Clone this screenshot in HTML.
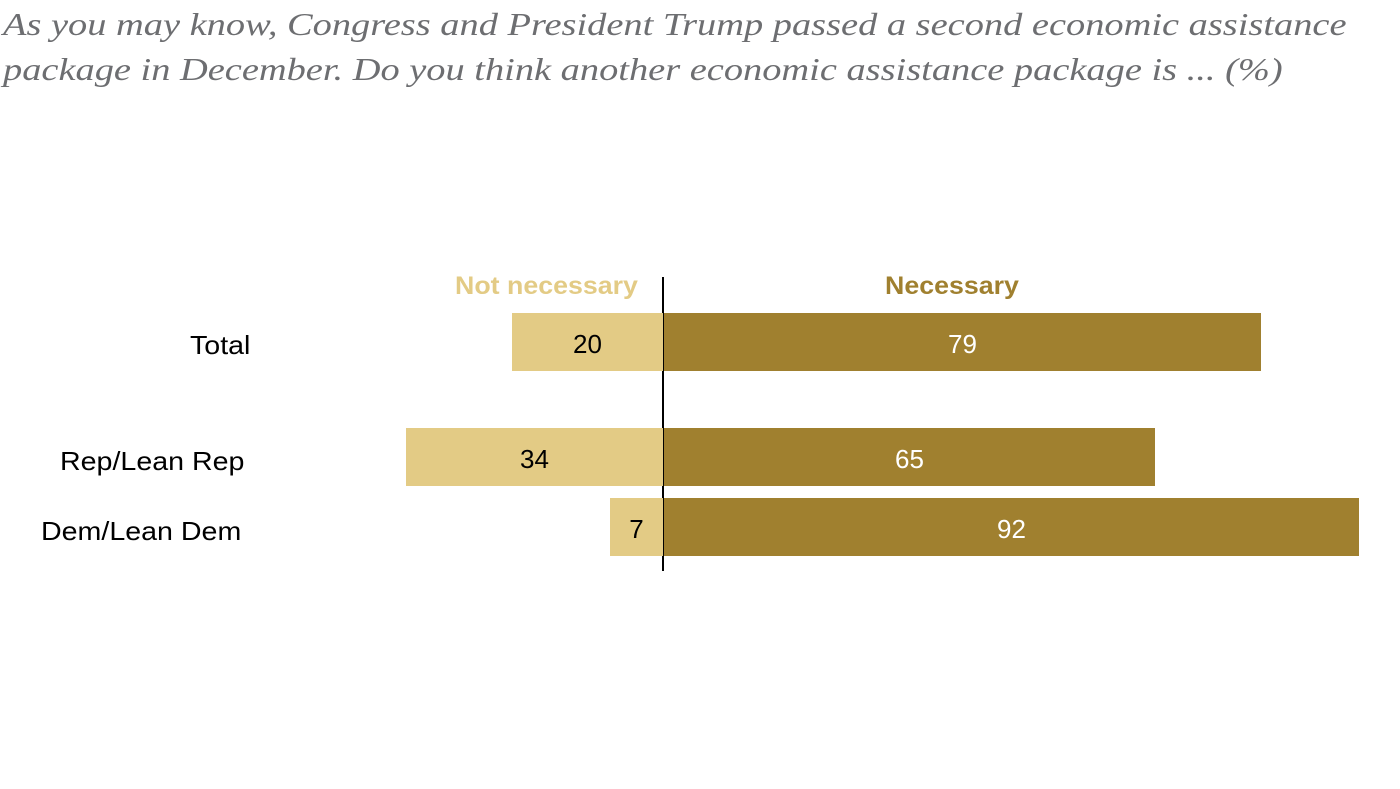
<!DOCTYPE html>
<html><head><meta charset="utf-8"><style>
body{margin:0;width:1400px;height:789px;background:#fff;position:relative;overflow:hidden;font-family:"Liberation Sans",sans-serif}
.t{position:absolute;left:3px;top:2px;font-family:"Liberation Serif",serif;font-style:italic;font-size:32px;line-height:45px;color:#6d6e71;white-space:nowrap;transform:scaleX(1.2);transform-origin:0 0}
.b{position:absolute;height:58px;display:flex;align-items:center;justify-content:center;font-size:26px;padding-top:4px;box-sizing:border-box}
.l{background:#e3cb85;color:#000}
.d{background:#a0802f;color:#fff}
.lab{position:absolute;font-size:26px;color:#000;white-space:nowrap;transform:scaleX(1.1);transform-origin:0 0}
.h{position:absolute;top:272px;font-size:25px;font-weight:bold;white-space:nowrap;transform:scaleX(1.07);transform-origin:0 0}
</style></head><body>
<div class="t">As you may know, Congress and President Trump passed a second economic assistance<br>package in December. Do you think another economic assistance package is ... (%)</div>
<div class="h" style="left:455px;color:#e3cb85">Not necessary</div>
<div class="h" style="left:885px;color:#a0802f">Necessary</div>
<div style="position:absolute;left:662px;top:277px;width:1.5px;height:294px;background:#000"></div>
<div class="lab" style="left:190px;top:330px">Total</div>
<div class="lab" style="left:60px;top:446px">Rep/Lean Rep</div>
<div class="lab" style="left:41px;top:516px">Dem/Lean Dem</div>
<div class="b l" style="left:512px;top:313px;width:151px">20</div>
<div class="b d" style="left:664px;top:313px;width:597px">79</div>
<div class="b l" style="left:406px;top:428px;width:257px">34</div>
<div class="b d" style="left:664px;top:428px;width:491px">65</div>
<div class="b l" style="left:610px;top:498px;width:53px">7</div>
<div class="b d" style="left:664px;top:498px;width:695px">92</div>
</body></html>
